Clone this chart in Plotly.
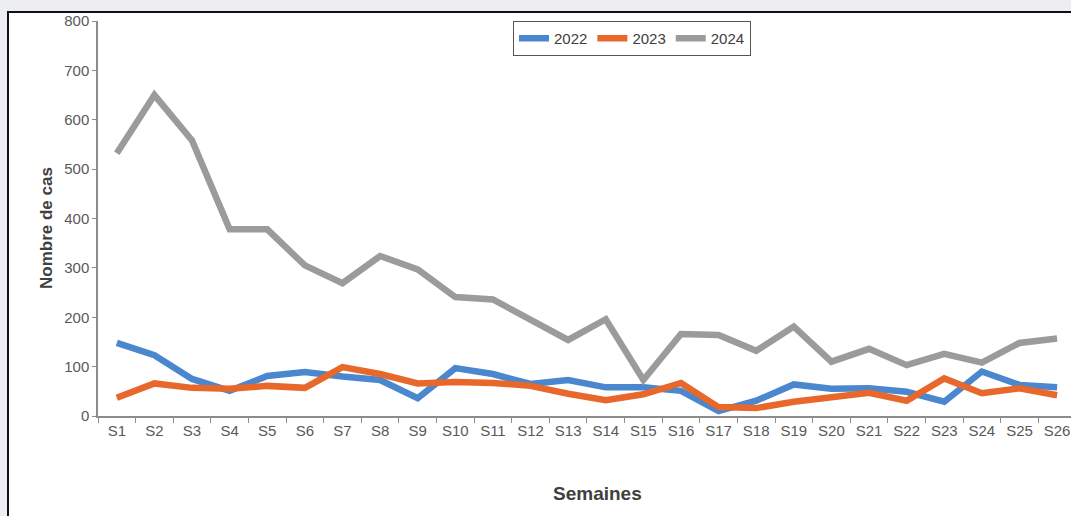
import plotly.graph_objects as go

weeks = [f"S{i}" for i in range(1, 27)]
cases_2022 = [148, 123, 75, 51, 81, 89, 80, 73, 36, 97, 85, 65, 73, 58, 58, 51, 10, 31, 64, 55, 56, 49, 29, 90, 63, 58]
cases_2023 = [37, 66, 57, 55, 61, 57, 99, 85, 66, 69, 67, 61, 45, 32, 44, 67, 18, 16, 29, 39, 47, 31, 76, 46, 56, 42]
cases_2024 = [532, 650, 558, 378, 378, 305, 269, 324, 297, 241, 236, 196, 154, 196, 73, 166, 164, 132, 181, 110, 136, 103, 126, 108, 148, 157]

series = [("2022", cases_2022, "#4a87cf"), ("2023", cases_2023, "#e8672a"), ("2024", cases_2024, "#9b9b9b")]

W, H = 1071, 516
L, T, B = 98, 21, 100
PW = W - L
PH = H - T - B

def px(x):
    return (x - L) / PW

def py(y):
    return (H - B - y) / PH

fig = go.Figure()
for name, vals, col in series:
    fig.add_trace(go.Scatter(x=weeks, y=vals, name=name, mode="lines",
                             line=dict(color=col, width=6.5)))

fig.update_layout(
    width=W, height=H, autosize=False,
    margin=dict(l=L, r=0, t=T, b=B),
    paper_bgcolor="#eceef1",
    plot_bgcolor="rgba(0,0,0,0)",
    font=dict(family="Liberation Sans, Arial, sans-serif", color="#595959", size=15),
    showlegend=True,
    legend=dict(orientation="h", x=px(632), xanchor="center", y=py(21), yanchor="top",
                bgcolor="white", bordercolor="#555555", borderwidth=1,
                font=dict(size=15, color="#404040"), itemwidth=30,
                tracegroupgap=0, itemclick=False),
    xaxis=dict(type="category", range=[-0.5, 25.37], showgrid=False,
               showline=True, linecolor="#8c8c8c", linewidth=1.5,
               ticks="outside", tickson="boundaries", ticklen=5, tickcolor="#8c8c8c",
               tickfont=dict(size=15, color="#595959"), zeroline=False),
    yaxis=dict(range=[0, 800], dtick=100, showgrid=False, zeroline=False,
               showline=True, linecolor="#8c8c8c", linewidth=1.5,
               ticks="outside", ticklen=4, tickcolor="#8c8c8c",
               tickfont=dict(size=15, color="#595959")),
    shapes=[
        dict(type="rect", xref="paper", yref="paper", layer="below",
             x0=px(8), x1=px(1100), y0=py(12), y1=py(560),
             fillcolor="white", line=dict(color="#111111", width=2)),
    ],
    annotations=[
        dict(text="<b>Nombre de cas</b>", xref="paper", yref="paper",
             x=px(46), y=py(228), xanchor="center", yanchor="middle",
             textangle=-90, showarrow=False,
             font=dict(size=17, color="#404040")),
        dict(text="<b>Semaines</b>", xref="paper", yref="paper",
             x=px(597), y=py(493), xanchor="center", yanchor="middle",
             showarrow=False,
             font=dict(size=19, color="#404040")),
    ],
)

fig.write_html("out.html")
